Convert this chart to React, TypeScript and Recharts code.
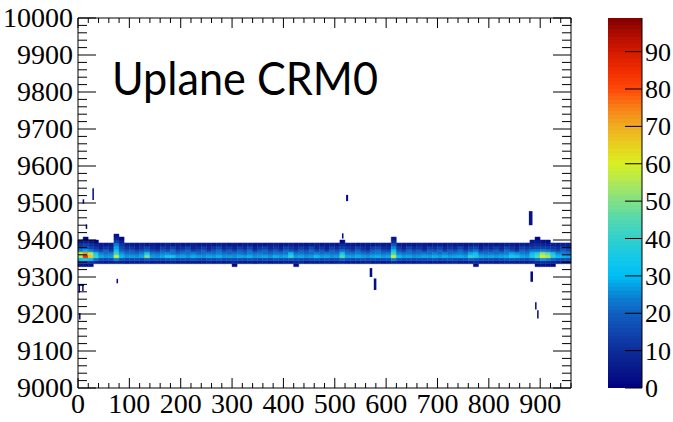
import React from 'react';
import { ComposedChart, Bar, Cell, XAxis, YAxis, ReferenceArea } from 'recharts';

// ---------- binning ----------
const binWidth = 10; // x units per column
const nBins = 96; // 0..960
const rowEdges = [9328, 9336, 9344, 9352, 9360, 9368, 9376, 9384, 9392, 9400, 9408, 9416];

// ---------- counts per y-row (each array: 96 x-columns of 10 units) ----------
const r0 = [
  4, 3, 2, 0, 0, 0, 0, 0, 0, 0,
  0, 0, 0, 0, 0, 0, 0, 0, 0, 0,
  0, 0, 0, 0, 0, 0, 0, 0, 0, 0,
  2, 0, 0, 0, 0, 0, 0, 0, 0, 0,
  0, 0, 3, 0, 0, 0, 0, 0, 0, 0,
  0, 0, 0, 0, 0, 0, 0, 0, 0, 0,
  0, 0, 0, 0, 0, 0, 0, 0, 0, 0,
  0, 0, 0, 0, 0, 0, 0, 3, 0, 0,
  0, 0, 0, 0, 0, 0, 0, 0, 0, 2,
  4, 3, 1, 0, 0, 0,
];
const r1 = [
  12, 12, 10, 8, 6, 5, 6, 7, 6, 5,
  6, 5, 6, 7, 5, 6, 5, 6, 7, 5,
  6, 5, 6, 5, 6, 7, 5, 6, 5, 6,
  8, 6, 5, 6, 5, 6, 7, 5, 6, 5,
  6, 5, 7, 8, 5, 6, 5, 6, 7, 5,
  6, 7, 5, 6, 5, 6, 7, 5, 6, 5,
  6, 8, 6, 5, 6, 5, 6, 7, 5, 6,
  5, 6, 7, 8, 6, 5, 6, 9, 6, 5,
  6, 5, 6, 7, 6, 5, 6, 5, 7, 8,
  10, 9, 7, 6, 6, 6,
];
const r2 = [
  30, 36, 30, 22, 16, 15, 16, 24, 17, 15,
  15, 16, 14, 18, 15, 16, 15, 16, 17, 15,
  16, 15, 17, 15, 14, 16, 15, 17, 15, 16,
  15, 16, 15, 17, 16, 15, 16, 15, 17, 16,
  16, 17, 15, 16, 15, 16, 17, 15, 16, 15,
  15, 20, 16, 15, 16, 17, 15, 16, 15, 16,
  16, 24, 17, 15, 16, 15, 16, 15, 16, 17,
  15, 16, 17, 16, 15, 16, 20, 18, 16, 15,
  16, 15, 16, 17, 18, 17, 16, 15, 18, 22,
  26, 24, 20, 17, 16, 16,
];
const r3 = [
  55, 85, 66, 42, 28, 26, 27, 58, 30, 26,
  27, 26, 28, 50, 27, 26, 28, 34, 33, 27,
  28, 26, 29, 27, 26, 28, 27, 29, 26, 27,
  26, 28, 27, 29, 26, 27, 28, 26, 29, 27,
  28, 40, 27, 28, 26, 27, 30, 27, 28, 26,
  27, 45, 28, 27, 29, 27, 26, 28, 29, 27,
  28, 58, 30, 27, 28, 26, 27, 28, 27, 29,
  27, 29, 27, 28, 29, 27, 40, 36, 28, 27,
  28, 27, 28, 29, 35, 33, 28, 27, 36, 45,
  60, 55, 40, 30, 29, 28,
];
const r4 = [
  58, 72, 55, 34, 24, 22, 23, 42, 26, 22,
  22, 21, 24, 34, 23, 22, 24, 25, 23, 21,
  23, 22, 24, 21, 22, 23, 22, 24, 22, 21,
  22, 23, 21, 24, 22, 23, 22, 21, 23, 22,
  23, 30, 22, 23, 21, 22, 24, 22, 23, 22,
  22, 34, 23, 22, 24, 22, 21, 23, 24, 22,
  23, 42, 24, 22, 23, 21, 22, 23, 22, 24,
  22, 24, 22, 23, 24, 22, 28, 30, 23, 22,
  23, 22, 23, 24, 28, 26, 24, 23, 30, 38,
  52, 46, 34, 25, 24, 23,
];
const r5 = [
  24, 28, 24, 18, 14, 19, 13, 32, 20, 15,
  18, 13, 16, 20, 14, 12, 19, 15, 21, 13,
  16, 20, 13, 15, 19, 12, 17, 21, 14, 18,
  13, 19, 15, 21, 12, 17, 20, 14, 18, 13,
  20, 17, 13, 19, 15, 21, 14, 18, 12, 19,
  15, 22, 18, 13, 20, 14, 12, 19, 21, 15,
  14, 32, 17, 13, 20, 15, 18, 12, 19, 16,
  20, 13, 18, 15, 21, 14, 19, 22, 13, 17,
  15, 19, 13, 21, 16, 12, 20, 17, 22, 22,
  24, 22, 18, 14, 20, 16,
];
const r6 = [
  16, 18, 15, 12, 8, 12, 9, 28, 16, 11,
  12, 8, 11, 14, 9, 7, 13, 10, 14, 9,
  11, 14, 8, 10, 13, 9, 12, 15, 9, 12,
  8, 13, 10, 15, 8, 12, 14, 9, 12, 8,
  14, 12, 9, 13, 10, 15, 9, 12, 8, 13,
  10, 14, 12, 9, 14, 10, 8, 13, 15, 10,
  9, 25, 12, 8, 14, 10, 12, 8, 13, 11,
  14, 9, 12, 10, 15, 9, 13, 15, 8, 12,
  10, 13, 9, 15, 11, 8, 14, 12, 13, 14,
  14, 13, 12, 10, 14, 11,
];
const r7 = [
  12, 14, 11, 8, 6, 5, 6, 24, 12, 7,
  6, 5, 7, 5, 6, 5, 6, 7, 5, 6,
  5, 6, 7, 5, 6, 6, 5, 7, 6, 5,
  6, 5, 6, 7, 5, 6, 5, 6, 7, 5,
  6, 7, 5, 6, 5, 6, 7, 5, 6, 6,
  5, 9, 7, 6, 5, 6, 6, 5, 7, 6,
  6, 18, 7, 5, 6, 5, 7, 6, 5, 6,
  6, 5, 7, 6, 6, 5, 6, 7, 5, 6,
  6, 5, 6, 7, 6, 5, 7, 6, 9, 10,
  9, 8, 7, 6, 7, 7,
];
const r8 = [
  6, 7, 5, 2, 0, 0, 0, 14, 7, 0,
  0, 0, 0, 0, 0, 0, 0, 0, 0, 0,
  0, 0, 0, 0, 0, 0, 0, 0, 0, 0,
  0, 0, 0, 0, 0, 0, 0, 0, 0, 0,
  0, 0, 0, 0, 0, 0, 0, 0, 0, 0,
  0, 3, 0, 0, 0, 0, 0, 0, 0, 0,
  0, 10, 0, 0, 0, 0, 0, 0, 0, 0,
  0, 0, 0, 0, 0, 0, 0, 0, 0, 0,
  0, 0, 0, 0, 0, 0, 0, 0, 5, 6,
  4, 3, 0, 0, 0, 0,
];
const r9 = [
  0, 2, 0, 0, 0, 0, 0, 8, 2, 0,
  0, 0, 0, 0, 0, 0, 0, 0, 0, 0,
  0, 0, 0, 0, 0, 0, 0, 0, 0, 0,
  0, 0, 0, 0, 0, 0, 0, 0, 0, 0,
  0, 0, 0, 0, 0, 0, 0, 0, 0, 0,
  0, 0, 0, 0, 0, 0, 0, 0, 0, 0,
  0, 5, 0, 0, 0, 0, 0, 0, 0, 0,
  0, 0, 0, 0, 0, 0, 0, 0, 0, 0,
  0, 0, 0, 0, 0, 0, 0, 0, 0, 2,
  0, 0, 0, 0, 0, 0,
];
const r10 = [
  0, 0, 0, 0, 0, 0, 0, 4, 0, 0,
  0, 0, 0, 0, 0, 0, 0, 0, 0, 0,
  0, 0, 0, 0, 0, 0, 0, 0, 0, 0,
  0, 0, 0, 0, 0, 0, 0, 0, 0, 0,
  0, 0, 0, 0, 0, 0, 0, 0, 0, 0,
  0, 0, 0, 0, 0, 0, 0, 0, 0, 0,
  0, 0, 0, 0, 0, 0, 0, 0, 0, 0,
  0, 0, 0, 0, 0, 0, 0, 0, 0, 0,
  0, 0, 0, 0, 0, 0, 0, 0, 0, 0,
  0, 0, 0, 0, 0, 0,
];
const rows = [r0, r1, r2, r3, r4, r5, r6, r7, r8, r9, r10];

// ---------- isolated low-count clusters away from the band ----------
const speckX1 = [28, 9, 15, 75, 1, 8, 0, 2, 522, 514, 568, 576, 878, 881, 890, 894];
const speckX2 = [31, 12, 18, 78, 4, 11, 12, 5, 526, 517, 573, 581, 885, 886, 893, 897];
const speckY1 = [9508, 9498, 9430, 9283, 9258, 9262, 9276, 9185, 9505, 9404, 9300, 9265, 9440, 9287, 9212, 9188];
const speckY2 = [9540, 9510, 9442, 9295, 9278, 9280, 9281, 9203, 9522, 9418, 9324, 9296, 9478, 9315, 9232, 9210];
const speckCount = [3, 2, 2, 2, 3, 3, 2, 2, 2, 2, 3, 3, 4, 3, 3, 3];

// ---------- axes ----------
const xMajorTicks = [0, 100, 200, 300, 400, 500, 600, 700, 800, 900];
const yMajorTicks = [9000, 9100, 9200, 9300, 9400, 9500, 9600, 9700, 9800, 9900, 10000];
const zMajorTicks = [0, 10, 20, 30, 40, 50, 60, 70, 80, 90];
const xDomain = [0, 960];
const yDomain = [9000, 10000];
const zDomain = [0, 99];
const xMinorStep = 20;
const yMinorStep = 20;

// ---------- palette ----------
const paletteVals = [0, 5, 10, 15, 20, 25, 30, 35, 40, 45, 50, 55, 60, 65, 70, 75, 80, 85, 90, 95, 99];
const paletteCols = [
  '#000080', '#08188c', '#0d2c9a', '#1046b0', '#105ec0', '#0a88d6', '#00bef5', '#14c8e6',
  '#32cfcc', '#52d8b0', '#82e086', '#b0e858', '#d8f020', '#e8d020', '#f0ac20', '#f87e18',
  '#ff4808', '#f02c00', '#d41a00', '#aa0a00', '#800000',
];

function hexToRgb(h: string) {
  return [parseInt(h.slice(1, 3), 16), parseInt(h.slice(3, 5), 16), parseInt(h.slice(5, 7), 16)];
}
function palette(v: number): string {
  if (v <= paletteVals[0]) return paletteCols[0];
  for (let i = 1; i < paletteVals.length; i++) {
    if (v <= paletteVals[i]) {
      const t = (v - paletteVals[i - 1]) / (paletteVals[i] - paletteVals[i - 1]);
      const a = hexToRgb(paletteCols[i - 1]);
      const b = hexToRgb(paletteCols[i]);
      const c = a.map((av, k) => Math.round(av + (b[k] - av) * t));
      return `rgb(${c[0]},${c[1]},${c[2]})`;
    }
  }
  return paletteCols[paletteCols.length - 1];
}

// ---------- derived tables ----------
const tableData = Array.from({ length: nBins }, (_, i) => {
  const o: Record<string, number> = { bin: i * binWidth + binWidth / 2, base: rowEdges[0] };
  rows.forEach((_, k) => {
    o['h' + k] = rowEdges[k + 1] - rowEdges[k];
  });
  return o;
});
const xTicks = Array.from({ length: (xDomain[1] - xDomain[0]) / xMinorStep + 1 }, (_, i) => xDomain[0] + i * xMinorStep);
const yTicks = Array.from({ length: (yDomain[1] - yDomain[0]) / yMinorStep + 1 }, (_, i) => yDomain[0] + i * yMinorStep);
const zSteps = Array.from({ length: zDomain[1] - zDomain[0] }, (_, i) => zDomain[0] + i);
const cbData = [{ u: 0 }, { u: 1 }];

const serif = '"Liberation Serif", "Times New Roman", serif';
const FS = 28;

const BottomTick = (p: any) => {
  const { x, y, payload } = p;
  const v = payload.value;
  const major = xMajorTicks.includes(v);
  return (
    <g>
      <line x1={x} x2={x} y1={y} y2={y - (major ? 10 : 5)} stroke="#000" strokeWidth={1} />
      {major && (
        <text x={x} y={y + 25} textAnchor="middle" fontFamily={serif} fontSize={FS} fill="#000">
          {v}
        </text>
      )}
    </g>
  );
};
const TopTick = (p: any) => {
  const { x, y, payload } = p;
  const major = xMajorTicks.includes(payload.value);
  return <line x1={x} x2={x} y1={y} y2={y + (major ? 10 : 5)} stroke="#000" strokeWidth={1} />;
};
const LeftTick = (p: any) => {
  const { x, y, payload } = p;
  const v = payload.value;
  const major = yMajorTicks.includes(v);
  return (
    <g>
      <line x1={x} x2={x + (major ? 18 : 9)} y1={y} y2={y} stroke="#000" strokeWidth={1} />
      {major && (
        <text x={x - 5} y={y + 9} textAnchor="end" fontFamily={serif} fontSize={FS} fill="#000">
          {v}
        </text>
      )}
    </g>
  );
};
const RightTick = (p: any) => {
  const { x, y, payload } = p;
  const major = yMajorTicks.includes(payload.value);
  return <line x1={x} x2={x - (major ? 18 : 9)} y1={y} y2={y} stroke="#000" strokeWidth={1} />;
};
const ZTick = (p: any) => {
  const { x, y, payload } = p;
  return (
    <g>
      <line x1={x} x2={x - 17} y1={y} y2={y} stroke="#000" strokeWidth={1} />
      <text x={x + 3} y={y + 9} textAnchor="start" fontFamily={serif} fontSize={26} fill="#000">
        {payload.value}
      </text>
    </g>
  );
};

export default function App() {
  return (
    <div style={{ position: 'absolute', left: 0, top: 0, width: 673, height: 422, background: '#fff' }}>
      <div style={{ position: 'absolute', left: 0, top: 0 }}>
        <ComposedChart
          width={673}
          height={422}
          data={tableData}
          margin={{ top: 17, right: 101, bottom: 0, left: 8 }}
          barCategoryGap={0}
          barGap={0}
        >
          <XAxis xAxisId="cat" dataKey="bin" type="category" hide height={0} />
          <XAxis
            xAxisId="num"
            dataKey="bin"
            type="number"
            domain={xDomain}
            allowDataOverflow
            ticks={xTicks}
            interval={0}
            tickSize={0}
            tickMargin={0}
            tick={BottomTick}
            height={34}
            axisLine={{ stroke: '#000', strokeWidth: 1 }}
            tickLine={false}
          />
          <XAxis
            xAxisId="top"
            dataKey="bin"
            orientation="top"
            type="number"
            domain={xDomain}
            allowDataOverflow
            ticks={xTicks}
            interval={0}
            tickSize={0}
            tickMargin={0}
            tick={TopTick}
            height={1}
            axisLine={{ stroke: '#000', strokeWidth: 1 }}
            tickLine={false}
          />
          <YAxis
            yAxisId="left"
            type="number"
            domain={yDomain}
            allowDataOverflow
            ticks={yTicks}
            interval={0}
            tickSize={0}
            tickMargin={0}
            tick={LeftTick}
            width={70}
            axisLine={{ stroke: '#000', strokeWidth: 1 }}
            tickLine={false}
          />
          <YAxis
            yAxisId="right"
            orientation="right"
            type="number"
            domain={yDomain}
            allowDataOverflow
            ticks={yTicks}
            interval={0}
            tickSize={0}
            tickMargin={0}
            tick={RightTick}
            width={1}
            axisLine={{ stroke: '#000', strokeWidth: 1 }}
            tickLine={false}
          />
          <Bar dataKey="base" stackId="s" xAxisId="cat" yAxisId="left" fill="none" isAnimationActive={false} />
          {rows.map((row, k) => (
            <Bar
              key={'row' + k}
              dataKey={'h' + k}
              stackId="s"
              xAxisId="cat"
              yAxisId="left"
              isAnimationActive={false}
            >
              {row.map((c, i) => (
                <Cell
                  key={i}
                  fill={c > 0 ? palette(c) : 'none'}
                  stroke={c > 0 ? palette(c) : 'none'}
                  strokeWidth={0.5}
                />
              ))}
            </Bar>
          ))}
          {speckX1.map((x1, i) => (
            <ReferenceArea
              key={'sp' + i}
              xAxisId="num"
              yAxisId="left"
              x1={x1}
              x2={speckX2[i]}
              y1={speckY1[i]}
              y2={speckY2[i]}
              fill={palette(speckCount[i])}
              fillOpacity={1}
              stroke="none"
              ifOverflow="visible"
            />
          ))}
        </ComposedChart>
      </div>
      <div style={{ position: 'absolute', left: 600, top: 0 }}>
        <ComposedChart width={73} height={422} data={cbData} margin={{ top: 18, right: 0, bottom: 34, left: 8 }}>
          <XAxis xAxisId="cb" dataKey="u" type="number" domain={[0, 1]} allowDataOverflow hide height={0} />
          <YAxis
            yAxisId="cb"
            orientation="right"
            type="number"
            domain={zDomain}
            allowDataOverflow
            ticks={zMajorTicks}
            interval={0}
            tickSize={0}
            tickMargin={0}
            tick={ZTick}
            width={31}
            axisLine={{ stroke: '#000', strokeWidth: 1 }}
            tickLine={false}
          />
          {zSteps.map((v) => (
            <ReferenceArea
              key={'z' + v}
              xAxisId="cb"
              yAxisId="cb"
              x1={0}
              x2={1}
              y1={v}
              y2={v + 1}
              fill={palette(v + 0.5)}
              fillOpacity={1}
              stroke="none"
              shapeRendering="crispEdges"
              ifOverflow="visible"
            />
          ))}
        </ComposedChart>
      </div>
      <svg width={673} height={422} style={{ position: 'absolute', left: 0, top: 0, pointerEvents: 'none' }}>
        <text
          x={112}
          y={95}
          fontFamily="Lato, 'Open Sans', sans-serif"
          fontSize={46}
          fill="#000"
          textLength={266}
          lengthAdjust="spacingAndGlyphs"
        >
          Uplane CRM0
        </text>
      </svg>
    </div>
  );
}
